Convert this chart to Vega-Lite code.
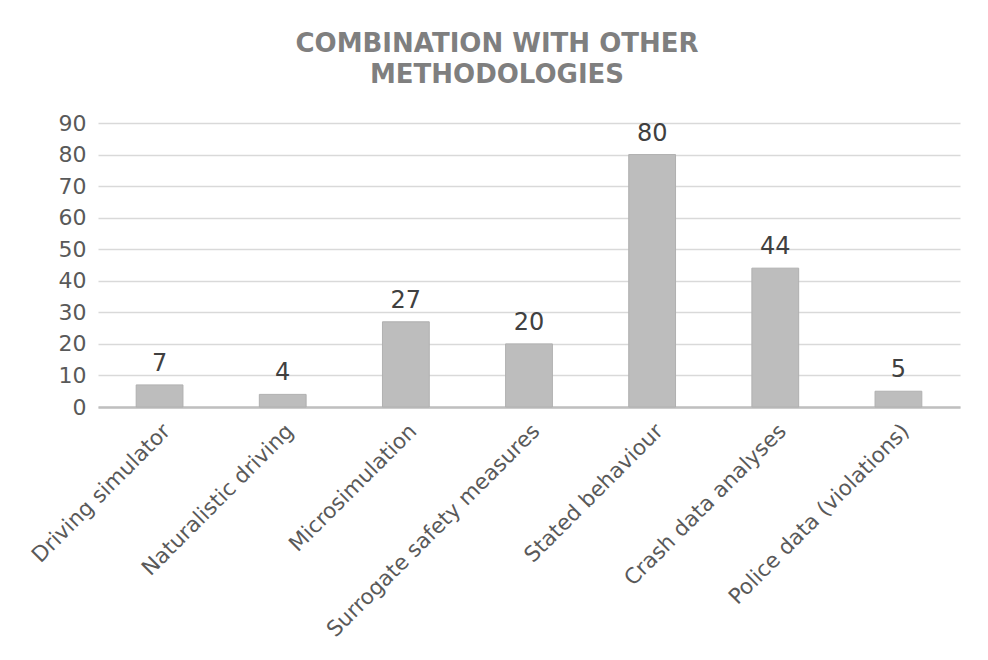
{
  "$schema": "https://vega.github.io/schema/vega-lite/v6.json",
  "autosize": "none",
  "width": 862,
  "height": 284,
  "padding": {"left": 98, "top": 123, "right": 28, "bottom": 253},
  "background": "white",
  "title": {
    "text": ["COMBINATION WITH OTHER", "METHODOLOGIES"],
    "font": "DejaVu Sans",
    "fontSize": 26,
    "fontWeight": "bold",
    "color": "#7f7f7f",
    "anchor": "middle",
    "frame": "group",
    "dx": -32,
    "offset": 24,
    "lineHeight": 31
  },
  "data": {
    "values": [
      {"method": "Driving simulator", "count": 7},
      {"method": "Naturalistic driving", "count": 4},
      {"method": "Microsimulation", "count": 27},
      {"method": "Surrogate safety measures", "count": 20},
      {"method": "Stated behaviour", "count": 80},
      {"method": "Crash data analyses", "count": 44},
      {"method": "Police data (violations)", "count": 5}
    ]
  },
  "encoding": {
    "x": {
      "field": "method",
      "type": "nominal",
      "sort": null,
      "scale": {"paddingInner": 0.62, "paddingOuter": 0.31},
      "axis": {
        "title": null,
        "labelAngle": -45,
        "labelAlign": "right",
        "labelBaseline": "top",
        "labelFont": "DejaVu Sans",
        "labelFontSize": 21.5,
        "labelColor": "#595959",
        "labelPadding": 13,
        "labelOffset": 0,
        "ticks": false,
        "domain": true,
        "domainColor": "#bfbfbf",
        "domainWidth": 2.5,
        "labelLimit": 400
      }
    },
    "y": {
      "field": "count",
      "type": "quantitative",
      "scale": {"domain": [0, 90]},
      "axis": {
        "title": null,
        "values": [0, 10, 20, 30, 40, 50, 60, 70, 80, 90],
        "labelFont": "DejaVu Sans",
        "labelFontSize": 22,
        "labelColor": "#595959",
        "labelPadding": 12,
        "ticks": false,
        "domain": false,
        "grid": true,
        "gridColor": "#d9d9d9",
        "gridWidth": 1.5
      }
    }
  },
  "layer": [
    {
      "mark": {"type": "bar", "color": "#bdbdbd", "stroke": "#b0b0b0", "strokeWidth": 1}
    },
    {
      "mark": {"type": "text", "dy": -9, "font": "DejaVu Sans", "fontSize": 24, "color": "#404040", "baseline": "bottom"},
      "encoding": {"text": {"field": "count", "type": "quantitative"}}
    }
  ],
  "config": {"view": {"stroke": null}}
}
